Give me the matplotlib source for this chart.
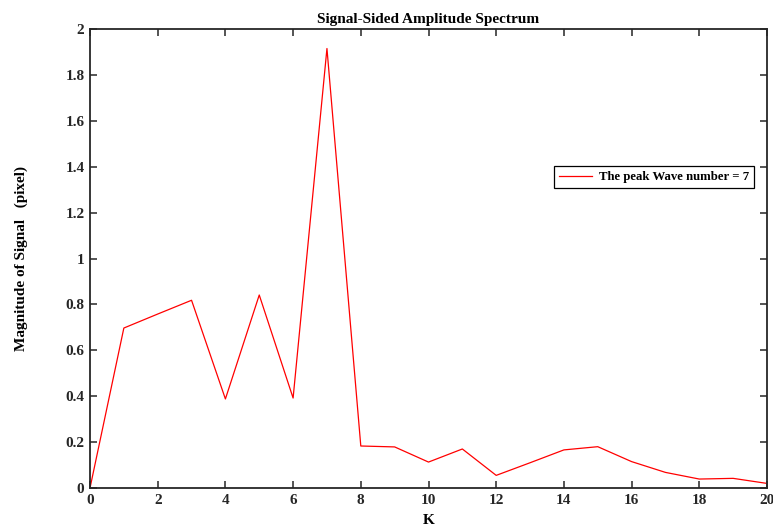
import numpy as np
import matplotlib
matplotlib.use("Agg")
import matplotlib.pyplot as plt

plt.rcParams["font.family"] = ["Liberation Serif", "DejaVu Serif"]
plt.rcParams["font.weight"] = "bold"

k = list(range(21))
magnitude = [0.0, 0.697, 0.758, 0.818, 0.388, 0.841, 0.392, 1.915, 0.183, 0.179,
             0.113, 0.170, 0.055, 0.110, 0.166, 0.180, 0.115, 0.068, 0.039, 0.042, 0.020]
xticks = list(range(0, 21, 2))
yticks = [0, 0.2, 0.4, 0.6, 0.8, 1, 1.2, 1.4, 1.6, 1.8, 2]

fig = plt.figure(figsize=(7.73, 5.31), dpi=100)
ax = fig.add_axes([90 / 773, 1 - 488 / 531, 677 / 773, 459 / 531])

ax.plot(k, magnitude, color="red", linewidth=0.9, label="The peak Wave number = 7")
ax.set_xlim(0, 20)
ax.set_ylim(0, 2)
ax.set_xticks(xticks)
ax.set_yticks(yticks)
ax.set_yticklabels([f"{v:g}" for v in yticks])

axis_color = "#262626"
for s in ax.spines.values():
    s.set_color(axis_color)
    s.set_linewidth(1.3)
ax.tick_params(direction="in", length=5, width=1.1, colors=axis_color,
               top=True, right=True, labelsize=11, pad=4)
for lab in ax.get_xticklabels() + ax.get_yticklabels():
    lab.set_fontweight("bold")

ax.set_title("Signal-Sided Amplitude Spectrum", fontsize=11, fontweight="bold", pad=4)
ax.set_xlabel("K", fontsize=11, fontweight="bold", labelpad=5)
ax.set_ylabel("Magnitude of Signal   (pixel)", fontsize=11, fontweight="bold", labelpad=27)

leg = ax.legend(loc="upper left", bbox_to_anchor=(464 / 677, (488 - 166) / 459),
                fancybox=False, framealpha=1, edgecolor="black", borderpad=0.4,
                borderaxespad=0, handlelength=2.6, handletextpad=0.5,
                prop={"weight": "bold", "size": 9.2})
leg.get_frame().set_linewidth(0.9)

plt.savefig("out.png", dpi=100)
